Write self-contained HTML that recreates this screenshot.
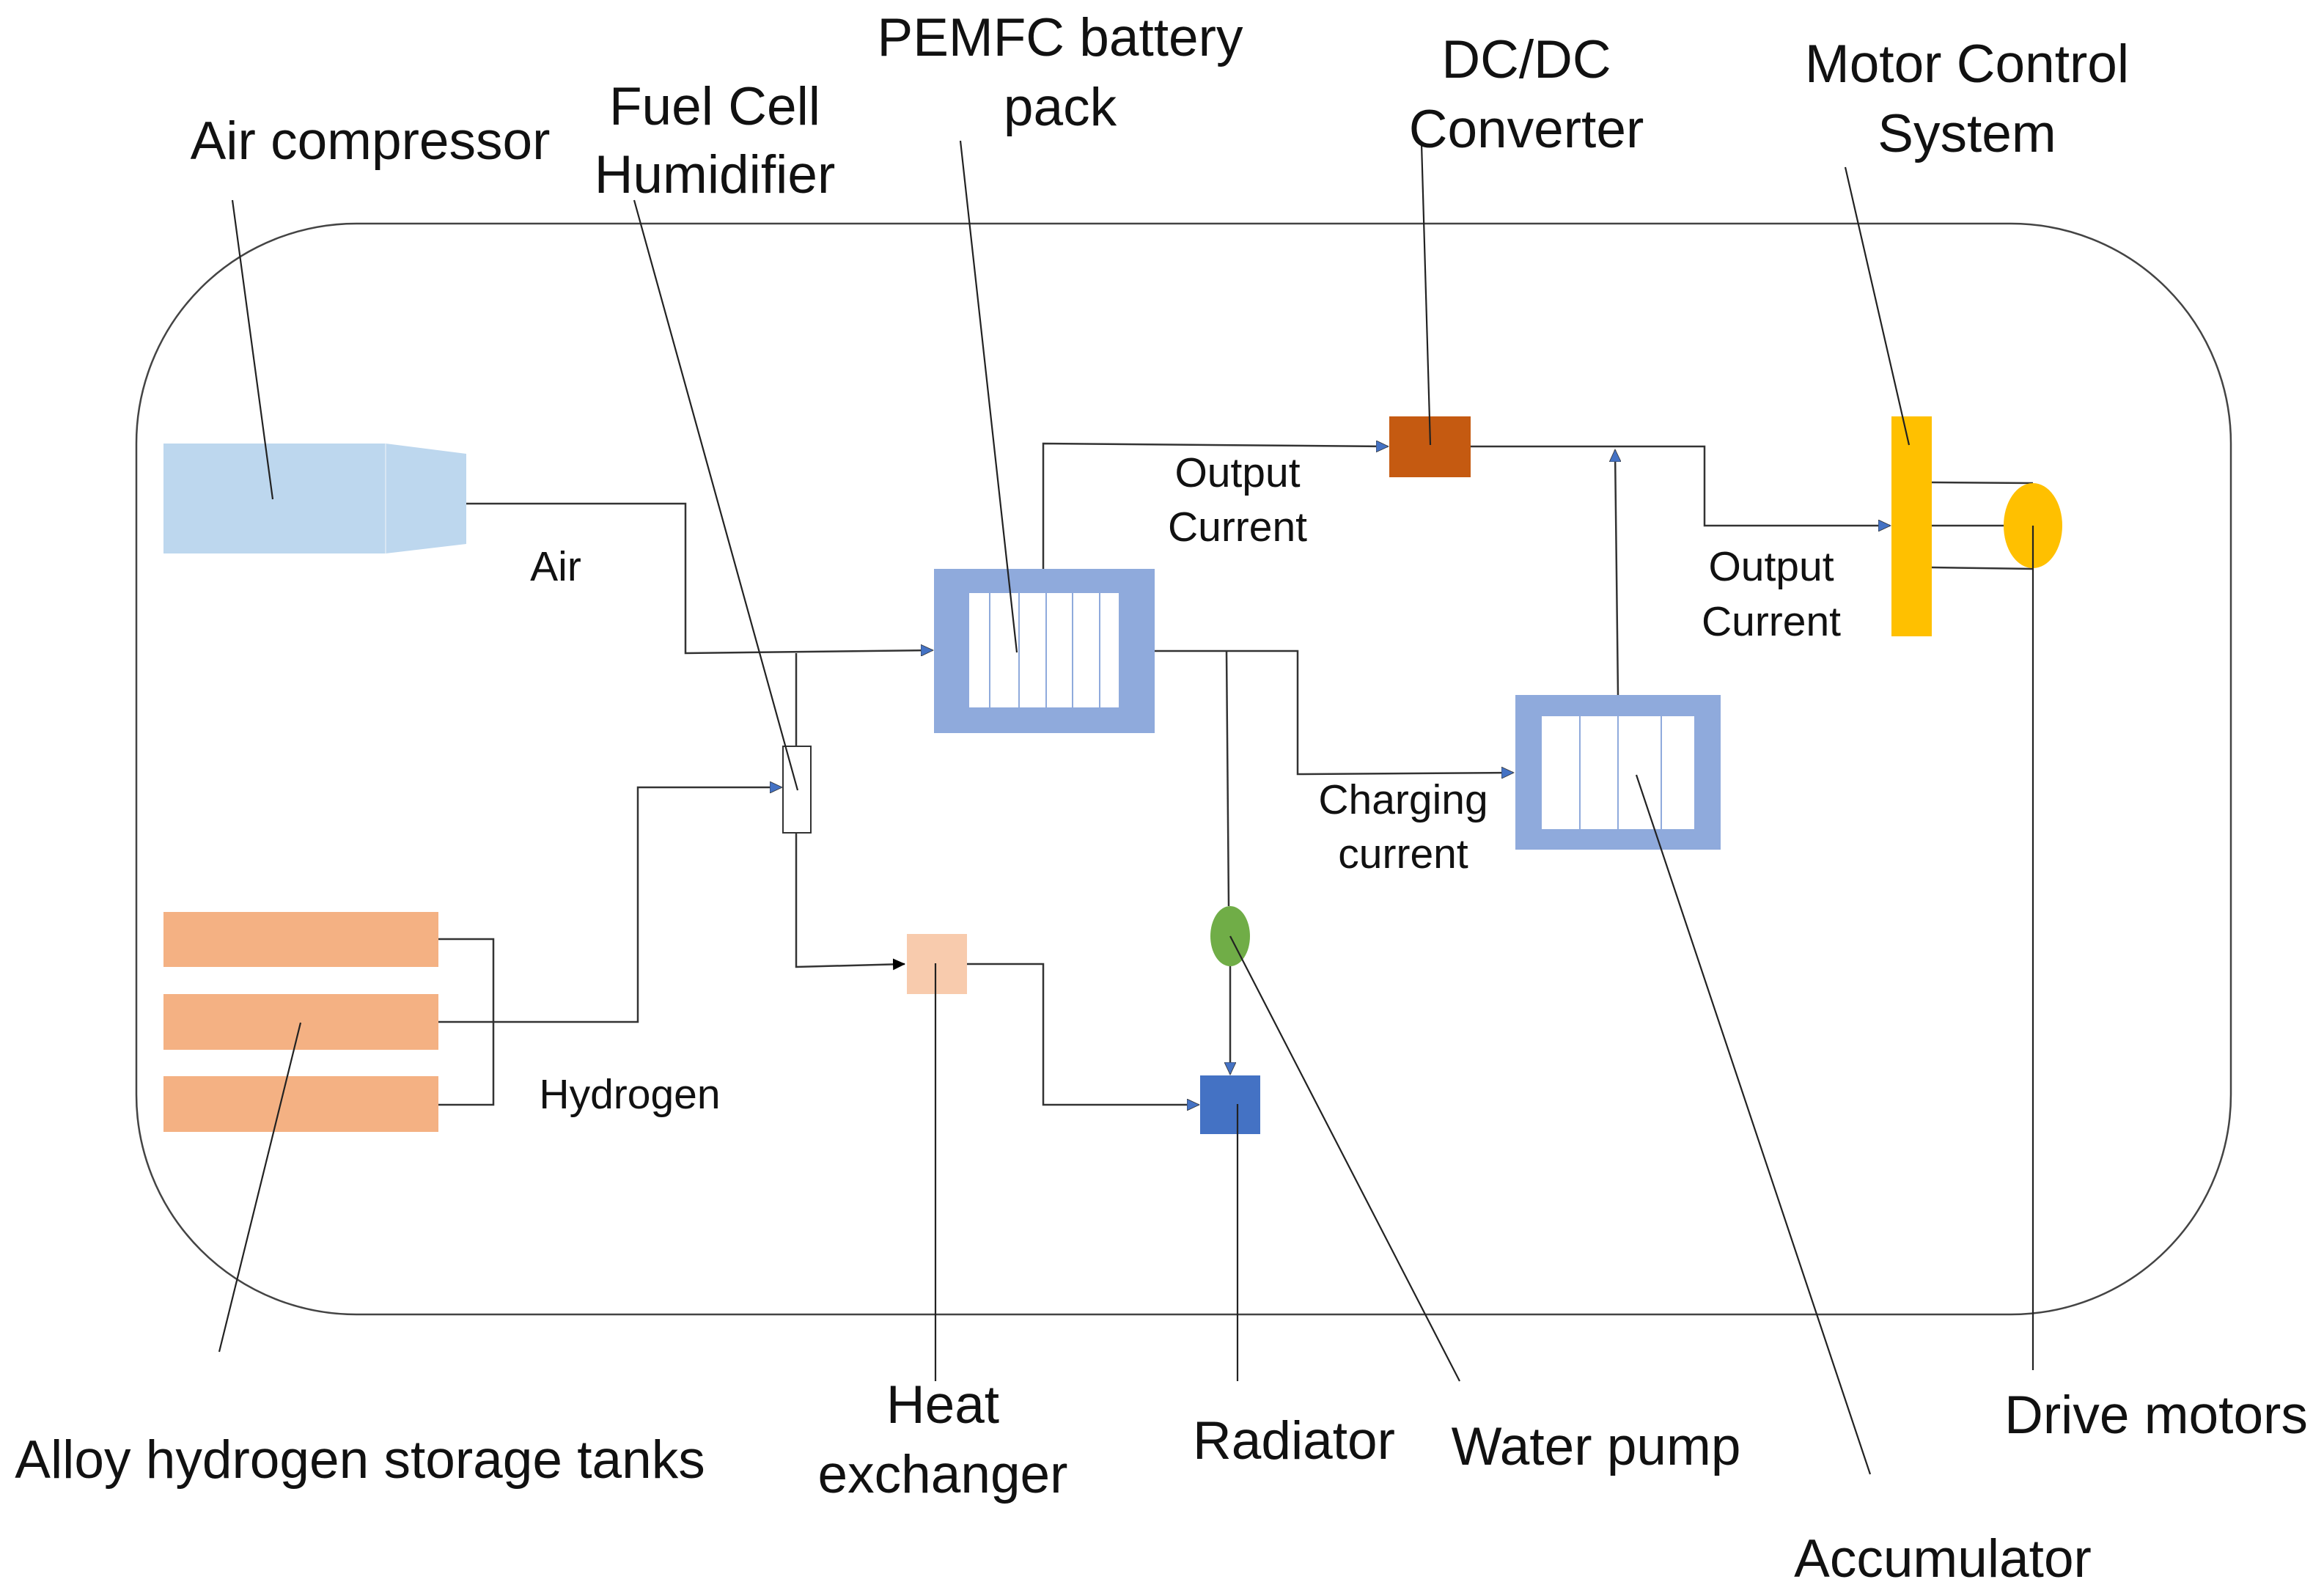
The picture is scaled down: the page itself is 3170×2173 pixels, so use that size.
<!DOCTYPE html>
<html><head><meta charset="utf-8"><style>body{margin:0;background:#fff}svg{display:block}text{font-family:"Liberation Sans",sans-serif;fill:#111}</style></head>
<body>
<svg width="3170" height="2173" viewBox="0 0 3170 2173" xmlns="http://www.w3.org/2000/svg">
<defs>
<marker id="a" markerWidth="18" markerHeight="16" refX="16" refY="8" orient="auto" markerUnits="userSpaceOnUse"><path d="M0,0 L17,8 L0,16 z" fill="#4472C4" stroke="#333" stroke-width="0.8"/></marker>
<marker id="b" markerWidth="18" markerHeight="16" refX="16" refY="8" orient="auto" markerUnits="userSpaceOnUse"><path d="M0,0 L17,8 L0,16 z" fill="#000"/></marker>
</defs>
<rect x="186" y="305" width="2857" height="1488" rx="300" ry="300" fill="none" stroke="#444" stroke-width="2.5"/>
<g stroke="#333" stroke-width="2.5" fill="none">
<polyline points="636,687 935,687 935,891 1272,887" marker-end="url(#a)"/>
<polyline points="1086,891 1086,1018"/>
<polyline points="1086,1136 1086,1319 1234,1315" marker-end="url(#b)"/>
<polyline points="598,1281 673,1281 673,1507 598,1507"/>
<polyline points="598,1394 870,1394 870,1074 1066,1074" marker-end="url(#a)"/>
<polyline points="1319,1315 1423,1315 1423,1507 1635,1507" marker-end="url(#a)"/>
<polyline points="1423,776 1423,605 1893,609" marker-end="url(#a)"/>
<polyline points="1575,888 1770,888 1770,1056 2064,1054" marker-end="url(#a)"/>
<polyline points="1673,888 1676,1236"/>
<polyline points="1678,1318 1678,1465" marker-end="url(#a)"/>
<polyline points="2207,948 2203,614" marker-end="url(#a)"/>
<polyline points="2006,609 2325,609 2325,717 2578,717" marker-end="url(#a)"/>
<polyline points="2635,658 2773,659"/>
<polyline points="2635,717 2773,717"/>
<polyline points="2635,774 2773,776"/>
</g>
<rect x="223" y="605" width="303" height="150" fill="#BDD7EE"/>
<polygon points="526,605 636,619 636,742 526,755" fill="#BDD7EE"/>
<line x1="526" y1="605" x2="526" y2="755" stroke="#d8e6f3" stroke-width="2"/>
<rect x="223" y="1244" width="375" height="75" fill="#F4B183"/>
<rect x="223" y="1356" width="375" height="76" fill="#F4B183"/>
<rect x="223" y="1468" width="375" height="76" fill="#F4B183"/>
<rect x="1274" y="776" width="301" height="224" fill="#8FAADC"/>
<rect x="1322" y="809" width="204" height="156" fill="#fff"/>
<g stroke="#8FAADC" stroke-width="2"><line x1="1350" y1="809" x2="1350" y2="965"/><line x1="1390" y1="809" x2="1390" y2="965"/><line x1="1427" y1="809" x2="1427" y2="965"/><line x1="1463" y1="809" x2="1463" y2="965"/><line x1="1500" y1="809" x2="1500" y2="965"/></g>
<rect x="2067" y="948" width="280" height="211" fill="#8FAADC"/>
<rect x="2103" y="977" width="208" height="154" fill="#fff"/>
<g stroke="#8FAADC" stroke-width="2"><line x1="2155" y1="977" x2="2155" y2="1131"/><line x1="2207" y1="977" x2="2207" y2="1131"/><line x1="2266" y1="977" x2="2266" y2="1131"/></g>
<rect x="1068" y="1018" width="38" height="118" fill="#fff" stroke="#333" stroke-width="2"/>
<rect x="1237" y="1274" width="82" height="82" fill="#F8CBAD"/>
<rect x="1637" y="1467" width="82" height="80" fill="#4472C4"/>
<ellipse cx="1678" cy="1277" rx="27" ry="41" fill="#70AD47"/>
<rect x="1895" y="568" width="111" height="83" fill="#C55A11"/>
<rect x="2580" y="568" width="55" height="300" fill="#FFC000"/>
<ellipse cx="2773" cy="717" rx="40" ry="58" fill="#FFC000"/>
<g stroke="#222" stroke-width="2.2">
<line x1="317" y1="273" x2="372" y2="681"/>
<line x1="865" y1="273" x2="1088" y2="1078"/>
<line x1="1310" y1="192" x2="1387" y2="890"/>
<line x1="1939" y1="196" x2="1951" y2="607"/>
<line x1="2517" y1="228" x2="2604" y2="607"/>
<line x1="410" y1="1395" x2="299" y2="1844"/>
<line x1="1276" y1="1314" x2="1276" y2="1884"/>
<line x1="1688" y1="1506" x2="1688" y2="1884"/>
<line x1="1678" y1="1277" x2="1991" y2="1884"/>
<line x1="2232" y1="1057" x2="2551" y2="2011"/>
<line x1="2773" y1="717" x2="2773" y2="1869"/>
</g>
<g font-size="73" text-anchor="middle">
<text x="505" y="217">Air compressor</text>
<text x="975" y="170">Fuel Cell</text><text x="975" y="263">Humidifier</text>
<text x="1446" y="76">PEMFC battery</text><text x="1446" y="171">pack</text>
<text x="2082" y="106">DC/DC</text><text x="2082" y="201">Converter</text>
<text x="2683" y="112">Motor Control</text><text x="2683" y="207">System</text>
<text x="491" y="2016">Alloy hydrogen storage tanks</text>
<text x="1286" y="1941">Heat</text><text x="1286" y="2036">exchanger</text>
<text x="1765" y="1990">Radiator</text>
<text x="2177" y="1998">Water pump</text>
<text x="2650" y="2151">Accumulator</text>
<text x="2941" y="1955">Drive motors</text>
</g>
<g font-size="57" text-anchor="middle">
<text x="758" y="792">Air</text>
<text x="1688" y="664">Output</text><text x="1688" y="738">Current</text>
<text x="2416" y="792">Output</text><text x="2416" y="867">Current</text>
<text x="1914" y="1110">Charging</text><text x="1914" y="1184">current</text>
<text x="859" y="1512">Hydrogen</text>
</g>
</svg>
</body></html>
